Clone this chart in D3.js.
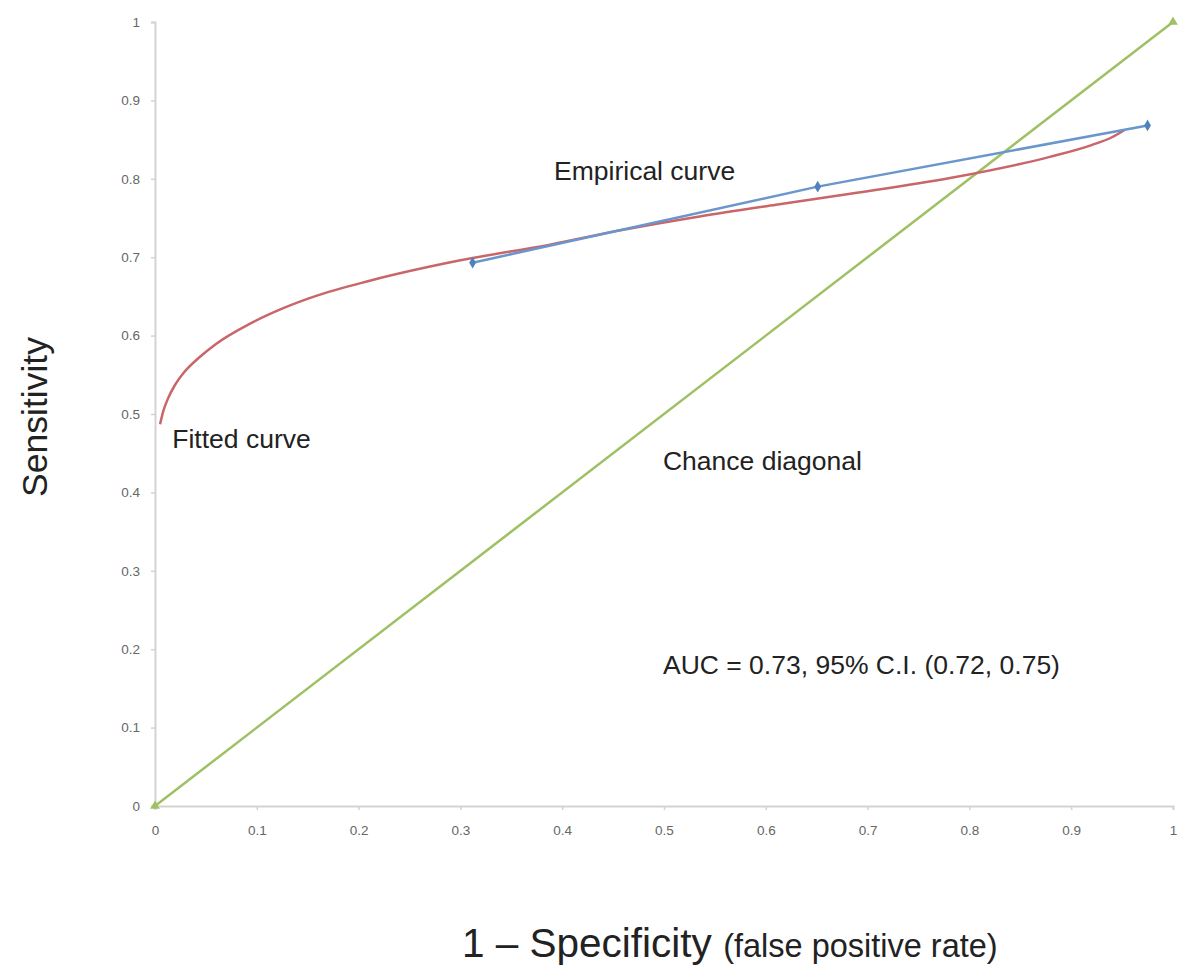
<!DOCTYPE html>
<html>
<head>
<meta charset="utf-8">
<script src="https://cdn.jsdelivr.net/npm/d3@7"></script>
<style>
  html, body { margin: 0; padding: 0; background: #fff; }
  svg { display: block; }
  text { font-family: "Liberation Sans", Arial, Helvetica, sans-serif; }
</style>
</head>
<body>
<svg id="chart" width="1186" height="967"></svg>
<script>
// ---- Data ----
const tickValues = [0, 0.1, 0.2, 0.3, 0.4, 0.5, 0.6, 0.7, 0.8, 0.9, 1];
const tickLabels = ["0", "0.1", "0.2", "0.3", "0.4", "0.5", "0.6", "0.7", "0.8", "0.9", "1"];

const empiricalX = [0.312, 0.651, 0.975];
const empiricalY = [0.693, 0.790, 0.868];

const fittedX = [0.005, 0.008, 0.0125, 0.0196, 0.0278, 0.0442, 0.0606, 0.093, 0.126, 0.159, 0.211, 0.30, 0.388, 0.46, 0.535, 0.61, 0.683, 0.781, 0.879, 0.92, 0.94, 0.952];
const fittedY = [0.487, 0.503, 0.519, 0.537, 0.552, 0.573, 0.590, 0.615, 0.635, 0.651, 0.670, 0.696, 0.716, 0.735, 0.752, 0.767, 0.781, 0.801, 0.828, 0.843, 0.853, 0.862];

const diagonalX = [0, 1];
const diagonalY = [0, 1];

const annotations = [
  { text: "Empirical curve", x: 0.392, y: 0.798 },
  { text: "Fitted curve", x: 0.017, y: 0.457 },
  { text: "Chance diagonal", x: 0.499, y: 0.429 },
  { text: "AUC = 0.73, 95% C.I. (0.72, 0.75)", x: 0.499, y: 0.168 }
];

// ---- Layout ----
const svg = d3.select("#chart");
const x = d3.scaleLinear().domain([0, 1]).range([155, 1173]);
const y = d3.scaleLinear().domain([0, 1]).range([806, 22]);

const axisColor = "#d3d3d3";
const tickTextColor = "#666";

// X axis
const xAxis = svg.append("g")
  .attr("transform", `translate(0,${y(0)})`)
  .call(d3.axisBottom(x).tickValues(tickValues).tickFormat((d, i) => tickLabels[i]).tickSizeOuter(0).tickSize(4).tickPadding(15));
// Y axis
const yAxis = svg.append("g")
  .attr("transform", `translate(${x(0)},0)`)
  .call(d3.axisLeft(y).tickValues(tickValues).tickFormat((d, i) => tickLabels[i]).tickSizeOuter(0).tickSize(4).tickPadding(11));

[xAxis, yAxis].forEach(g => {
  g.select(".domain").attr("stroke", axisColor).attr("stroke-width", 2);
  g.selectAll(".tick line").attr("stroke", axisColor).attr("stroke-width", 1.5);
  g.selectAll(".tick text")
    .attr("fill", tickTextColor)
    .style("font-size", "13.5px")
    .style("font-family", "'Liberation Sans', Arial, sans-serif");
});

// Lines
const diagData = diagonalX.map((v, i) => [v, diagonalY[i]]);
svg.append("path")
  .datum(diagData)
  .attr("d", d3.line().x(d => x(d[0])).y(d => y(d[1])))
  .attr("fill", "none")
  .attr("stroke", "#9fc063")
  .attr("stroke-width", 2.5);

const fittedData = fittedX.map((v, i) => [v, fittedY[i]]);
svg.append("path")
  .datum(fittedData)
  .attr("d", d3.line().x(d => x(d[0])).y(d => y(d[1])).curve(d3.curveMonotoneX))
  .attr("fill", "none")
  .attr("stroke", "#c9666a")
  .attr("stroke-width", 2.5);

const empData = empiricalX.map((v, i) => [v, empiricalY[i]]);
svg.append("path")
  .datum(empData)
  .attr("d", d3.line().x(d => x(d[0])).y(d => y(d[1])))
  .attr("fill", "none")
  .attr("stroke", "#6a96cc")
  .attr("stroke-width", 2.5);

// Markers
svg.selectAll(".emp-pt")
  .data(empData)
  .enter().append("path")
  .attr("transform", d => `translate(${x(d[0])},${y(d[1])})`)
  .attr("d", d3.symbol().type(d3.symbolDiamond).size(40))
  .attr("fill", "#4f81bd");

svg.selectAll(".diag-pt")
  .data(diagData)
  .enter().append("path")
  .attr("transform", d => `translate(${x(d[0])},${y(d[1])})`)
  .attr("d", d3.symbol().type(d3.symbolTriangle).size(40))
  .attr("fill", "#9fc063");

// Annotations
svg.selectAll(".anno")
  .data(annotations)
  .enter().append("text")
  .attr("x", d => x(d.x))
  .attr("y", d => y(d.y))
  .attr("fill", "#222")
  .style("font-size", "26.5px")
  .text(d => d.text);

// Axis titles
svg.append("text")
  .attr("transform", `translate(47,417) rotate(-90)`)
  .attr("text-anchor", "middle")
  .attr("fill", "#222")
  .style("font-size", "35.5px")
  .text("Sensitivity");

const xt = svg.append("text")
  .attr("x", 462)
  .attr("y", 957)
  .attr("fill", "#222");
xt.append("tspan").style("font-size", "40.5px").text("1 – Specificity ");
xt.append("tspan").style("font-size", "32.5px").text("(false positive rate)");
</script>
</body>
</html>
